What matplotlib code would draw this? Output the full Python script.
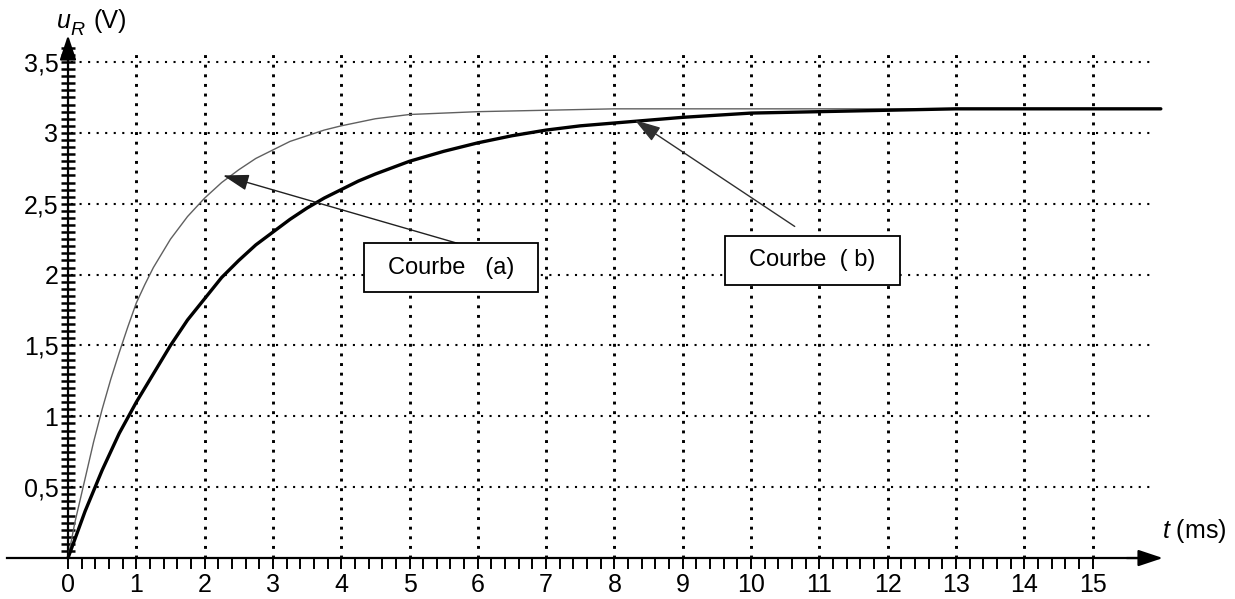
import numpy as np
import matplotlib
matplotlib.use("Agg")
import matplotlib.pyplot as plt
from matplotlib.patches import Rectangle
from matplotlib.ticker import FixedLocator, FixedFormatter

plt.rcParams['font.family'] = ['Liberation Sans', 'DejaVu Sans']
plt.rcParams['mathtext.fontset'] = 'custom'
plt.rcParams['mathtext.it'] = 'Liberation Sans:italic'
plt.rcParams['mathtext.rm'] = 'Liberation Sans'

# ---- data ----
t_a = [0, 0.1, 0.25, 0.375, 0.5, 0.625, 0.75, 0.875, 1.0, 1.125, 1.25, 1.375, 1.5,
       1.75, 2.0, 2.25, 2.5, 2.75, 3.0, 3.25, 3.5, 3.75, 4.0, 4.5, 5.0, 5.5, 6.0,
       7.0, 8.0, 10.0, 12.0, 14.0, 16.0]
u_a = [0, 0.25, 0.56, 0.82, 1.05, 1.26, 1.45, 1.63, 1.80, 1.93, 2.05, 2.15, 2.25,
       2.41, 2.54, 2.65, 2.74, 2.82, 2.88, 2.94, 2.98, 3.02, 3.05, 3.10, 3.13, 3.14, 3.15,
       3.16, 3.17, 3.17, 3.17, 3.17, 3.17]

t_b = [0, 0.25, 0.5, 0.75, 1.0, 1.25, 1.5, 1.75, 2.0, 2.25, 2.5, 2.75, 3.0, 3.25,
       3.5, 3.75, 4.0, 4.25, 4.5, 5.0, 5.5, 6.0, 6.5, 7.0, 7.5, 8.0, 9.0, 10.0,
       11.0, 12.0, 13.0, 14.0, 16.0]
u_b = [0, 0.33, 0.62, 0.88, 1.10, 1.30, 1.50, 1.68, 1.83, 1.98, 2.10, 2.21, 2.30, 2.39,
       2.47, 2.54, 2.60, 2.66, 2.71, 2.80, 2.87, 2.93, 2.98, 3.02, 3.05, 3.07, 3.11, 3.14,
       3.15, 3.16, 3.17, 3.17, 3.17]

x_major = list(range(0, 16))
x_labels = [str(v) for v in x_major]
y_major = [0.5, 1.0, 1.5, 2.0, 2.5, 3.0, 3.5]
y_labels = ["0,5", "1", "1,5", "2", "2,5", "3", "3,5"]
x_grid = list(range(1, 16))
y_grid = [0.5, 1.0, 1.5, 2.0, 2.5, 3.0, 3.5]

label_a = "Courbe   (a)"
label_b = "Courbe  ( b)"

# ---- figure ----
fig = plt.figure(figsize=(12.35, 5.99), dpi=100)
ax = fig.add_axes([0, 0, 1, 1])
ax.set_xlim(-0.9956, 17.086)
ax.set_ylim(-0.289, 3.938)
ax.patch.set_alpha(0)

# grid
ax.hlines(y_grid, 0.05, 15.85, colors='black', linewidth=1.5,
          linestyles=(0, (1, 3.1)), zorder=1)
ax.vlines(x_grid, 0, 3.57, colors='black', linewidth=2.1,
          linestyles=(0, (1, 2.3)), zorder=1)

# curves
ax.plot(t_a, u_a, color='#606060', linewidth=1.0, zorder=3)
ax.plot(t_b, u_b, color='black', linewidth=2.4, zorder=3, solid_capstyle='round')

# spines as axes
for s in ['top', 'right']:
    ax.spines[s].set_visible(False)
ax.spines['left'].set_position(('data', 0))
ax.spines['bottom'].set_position(('data', 0))
ax.spines['left'].set_bounds(0, 3.62)
ax.spines['bottom'].set_bounds(-0.9, 15.9)
ax.spines['left'].set_linewidth(1.6)
ax.spines['bottom'].set_linewidth(1.6)

ax.xaxis.set_major_locator(FixedLocator(x_major))
ax.xaxis.set_major_formatter(FixedFormatter(x_labels))
ax.xaxis.set_minor_locator(FixedLocator(np.arange(0.2, 15.01, 0.2)))
ax.yaxis.set_major_locator(FixedLocator(y_major))
ax.yaxis.set_major_formatter(FixedFormatter(y_labels))
ax.yaxis.set_minor_locator(FixedLocator(np.arange(0.05, 3.62, 0.05)))

ax.tick_params(axis='x', which='both', direction='out', length=8, width=1.4,
               labelsize=18, pad=3)
ax.tick_params(axis='y', which='both', direction='inout', length=10, width=1.8,
               labelsize=18, pad=2)

# axis arrows
ax.annotate('', xy=(16.03, 0), xytext=(15.5, 0),
            arrowprops=dict(arrowstyle='-|>,head_length=0.75,head_width=0.25',
                            mutation_scale=20, color='black', lw=1.6,
                            shrinkA=0, shrinkB=0))
ax.annotate('', xy=(0, 3.69), xytext=(0, 3.55),
            arrowprops=dict(arrowstyle='-|>,head_length=0.75,head_width=0.25',
                            mutation_scale=20, color='black', lw=1.6,
                            shrinkA=0, shrinkB=0))

# axis labels
ax.text(-0.16, 3.74, 'u', fontsize=18, style='italic', ha='left', va='baseline')
ax.text(0.04, 3.69, 'R', fontsize=14, style='italic', ha='left', va='baseline')
ax.text(0.38, 3.74, '(V)', fontsize=18, ha='left', va='baseline')
ax.text(16.02, 0.14, r'$t$ (ms)', fontsize=18, ha='left', va='baseline')

# callout boxes
ax.add_patch(Rectangle((4.33, 1.88), 2.55, 0.34, facecolor='white',
                       edgecolor='black', linewidth=1.3, zorder=5))
ax.text(5.61, 2.05, label_a, fontsize=17, ha='center', va='center', zorder=6)
ax.add_patch(Rectangle((9.62, 1.93), 2.56, 0.34, facecolor='white',
                       edgecolor='black', linewidth=1.3, zorder=5))
ax.text(10.90, 2.10, label_b, fontsize=17, ha='center', va='center', zorder=6)

arrow_kw = dict(arrowstyle='-|>,head_length=0.8,head_width=0.25',
                mutation_scale=20, lw=1.0, shrinkA=0, shrinkB=0)
ax.annotate('', xy=(2.27, 2.70), xytext=(5.71, 2.22),
            arrowprops=dict(color='#202020', **arrow_kw), zorder=4)
ax.annotate('', xy=(8.30, 3.09), xytext=(10.64, 2.34),
            arrowprops=dict(color='#303030', **arrow_kw), zorder=4)

fig.savefig('out.png', dpi=100)
